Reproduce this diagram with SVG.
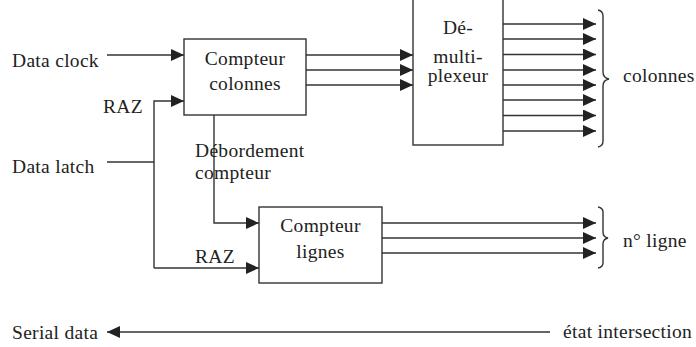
<svg xmlns="http://www.w3.org/2000/svg" width="696" height="347" viewBox="0 0 696 347">
<defs>
<marker id="ah" markerUnits="userSpaceOnUse" markerWidth="14" markerHeight="12" refX="13" refY="6" orient="auto">
<path d="M0,0 L13,6 L0,12 Z" fill="#222"/>
</marker>
<style>
text{font-family:"Liberation Serif","Times New Roman",serif;font-size:19.5px;letter-spacing:0.3px;fill:#222}
.c{text-anchor:middle}
.box{fill:#fff;stroke:#333;stroke-width:1.4}
.w{fill:none;stroke:#333;stroke-width:1.4}
.a{fill:none;stroke:#333;stroke-width:1.4;marker-end:url(#ah)}
</style>
</defs>
<rect width="696" height="347" fill="#fff"/>
<g id="connectors">
<line class="a" x1="107" y1="55" x2="184" y2="55"/>
<polyline class="a" points="154,268 154,101 184,101"/>
<line class="w" x1="107" y1="162" x2="154" y2="162"/>
<line class="a" x1="154" y1="268" x2="259" y2="268"/>
<polyline class="a" points="214,115 214,223 259,223"/>
<line class="a" x1="306" y1="55" x2="413" y2="55"/>
<line class="a" x1="306" y1="70" x2="413" y2="70"/>
<line class="a" x1="306" y1="85" x2="413" y2="85"/>
<line class="a" x1="503" y1="24" x2="596" y2="24"/>
<line class="a" x1="503" y1="39" x2="596" y2="39"/>
<line class="a" x1="503" y1="54.5" x2="596" y2="54.5"/>
<line class="a" x1="503" y1="70" x2="596" y2="70"/>
<line class="a" x1="503" y1="85" x2="596" y2="85"/>
<line class="a" x1="503" y1="100" x2="596" y2="100"/>
<line class="a" x1="503" y1="115.5" x2="596" y2="115.5"/>
<line class="a" x1="503" y1="131" x2="596" y2="131"/>
<line class="a" x1="382" y1="223" x2="596" y2="223"/>
<line class="a" x1="382" y1="238" x2="596" y2="238"/>
<line class="a" x1="382" y1="253" x2="596" y2="253"/>
<line class="a" x1="550" y1="332" x2="107" y2="332"/>
<path class="w" d="M598,10 Q603,11 603,16 L603,72 Q603,78 609,79 Q603,80 603,86 L603,141 Q603,146 598,147" stroke-width="1.1"/>
<path class="w" d="M598,207 Q603,208 603,212 L603,232 Q603,237 608,238 Q603,239 603,244 L603,263 Q603,267 598,268" stroke-width="1.1"/>
</g>
<g id="compteur-colonnes">
<rect class="box" x="184" y="39" width="122" height="76"/>
<text class="c" x="245" y="65">Compteur</text>
<text class="c" x="245" y="90">colonnes</text>
</g>
<g id="demux">
<rect class="box" x="413" y="-5" width="90" height="150"/>
<text class="c" x="458" y="34">Dé-</text>
<text class="c" x="458" y="63">multi-</text>
<text class="c" x="458" y="82">plexeur</text>
</g>
<g id="compteur-lignes">
<rect class="box" x="259" y="207" width="123" height="76"/>
<text class="c" x="320.5" y="232">Compteur</text>
<text class="c" x="320.5" y="258">lignes</text>
</g>
<g id="labels">
<text x="12" y="67">Data clock</text>
<text x="103" y="113">RAZ</text>
<text x="12" y="173">Data latch</text>
<text x="195" y="157">Débordement</text>
<text x="195" y="179">compteur</text>
<text x="195" y="263">RAZ</text>
<text x="623" y="82">colonnes</text>
<text x="623" y="247">n° ligne</text>
<text x="12" y="339">Serial data</text>
<text x="563" y="338">état intersection</text>
</g>
</svg>
